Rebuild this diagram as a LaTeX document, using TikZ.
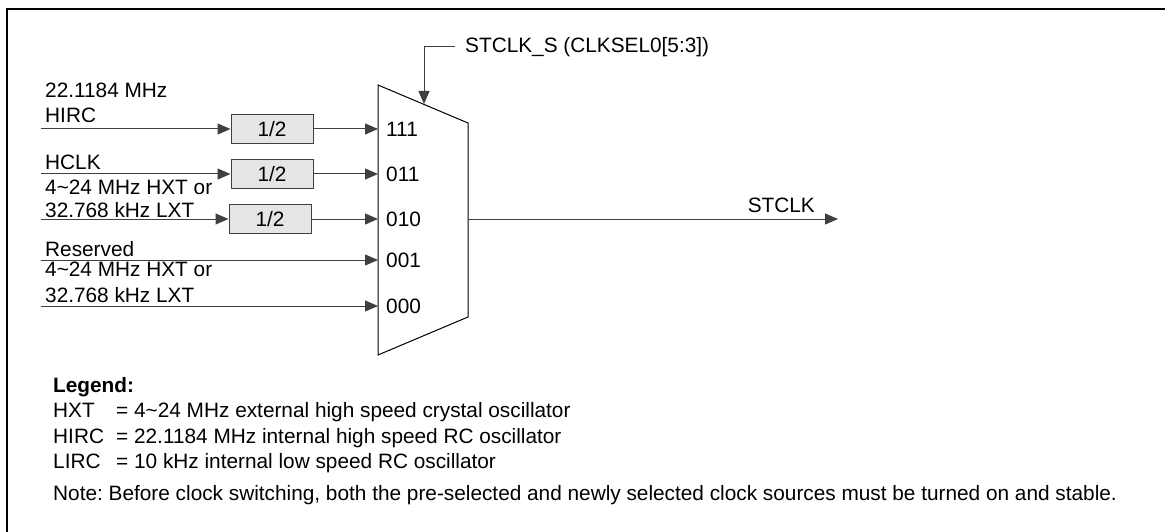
\documentclass[tikz,border=0pt]{standalone}
\usepackage{fontspec}
\setmainfont{Liberation Sans}
\usetikzlibrary{arrows.meta,positioning}
\frenchspacing

\begin{document}
\begin{tikzpicture}[x=1pt,y=-1pt,
  font=\fontsize{20.8}{25}\selectfont,
  wire/.style={draw=black!75, line width=1pt, -{Triangle[length=13pt,width=11pt]}},
  divbox/.style={draw=black!75, fill=gray!20, line width=1pt, minimum width=82pt, minimum height=29pt, inner sep=0pt},
  lbl/.style={anchor=base west, inner sep=0pt}]

\useasboundingbox (0,0) rectangle (1165,532);

% frame, only its top and left edges are in the picture
\draw[line width=2.2pt] (7,534) -- (7,9) -- (1167,9);

% the multiplexer
\coordinate (mtl) at (378,85);
\coordinate (mtr) at (468,123);
\coordinate (mbr) at (468,317);
\coordinate (mbl) at (378,355);
\draw[line width=1pt] (mtl) -- (mtr) -- (mbr) -- (mbl) -- cycle;

\foreach \code/\y in {111/129, 011/174, 010/219, 001/260, 000/306}{
    \coordinate (in\code) at (378,\y);
    \coordinate (src\code) at (41,\y);
    \node[anchor=west, inner sep=0pt] (sel\code) at (386,\y) {\code};
}

% dividers
\node[divbox] (div1) at (272,129) {1/2};
\node[divbox] (div2) at (272,174) {1/2};
\node[divbox] (div3) at (270,219) {1/2};

\draw[wire] (src111) -- (div1);
\draw[wire] (div1) -- (in111);
\draw[wire] (src011) -- (div2);
\draw[wire] (div2) -- (in011);
\draw[wire] (src010) -- (div3);
\draw[wire] (div3) -- (in010);
\draw[wire] (src001) -- (in001);
\draw[wire] (src000) -- (in000);

% clock source labels
\node[lbl] (hircmhz) at (45,98) {22.1184 MHz};
\node[lbl] (hirc) at (45,123) {HIRC};
\node[lbl] (hclk) at (45,169) {HCLK};
\node[lbl] (hxta) at (45,194) {4\textasciitilde24 MHz HXT or};
\node[lbl] (lxta) at (45,218) {32.768 kHz LXT};
\node[lbl] (rsvd) at (45,256) {Reserved};
\node[lbl] (hxtb) at (45,276) {4\textasciitilde24 MHz HXT or};
\node[lbl] (lxtb) at (45,302) {32.768 kHz LXT};

% select input
\coordinate (seltip) at (424,104);
\node[anchor=west, inner xsep=10pt, inner ysep=0pt] (stclks) at (455,47) {STCLK\_S (CLKSEL0[5:3])};
\draw[wire] (stclks.west) -| (seltip);

% output
\coordinate (muxout) at (468,219);
\coordinate (outend) at (838,219);
\draw[wire] (muxout) -- (outend);
\node[lbl, anchor=base east] (stclk) at (815,212) {STCLK};

% legend
\node[lbl] (legend) at (53,392) {\textbf{Legend:}};
\foreach \key/\txt/\y in {HXT/4\textasciitilde24 MHz external high speed crystal oscillator/417,
    HIRC/22.1184 MHz internal high speed RC oscillator/443,
    LIRC/10 kHz internal low speed RC oscillator/468}{
    \node[lbl] (key\key) at (53,\y) {\key};
    \node[lbl] (def\key) at (116,\y) {= \txt};
}
\node[lbl] (note) at (53,500) {Note: Before clock switching, both the pre-selected and newly selected clock sources must be turned on and stable.};

\end{tikzpicture}
\end{document}
